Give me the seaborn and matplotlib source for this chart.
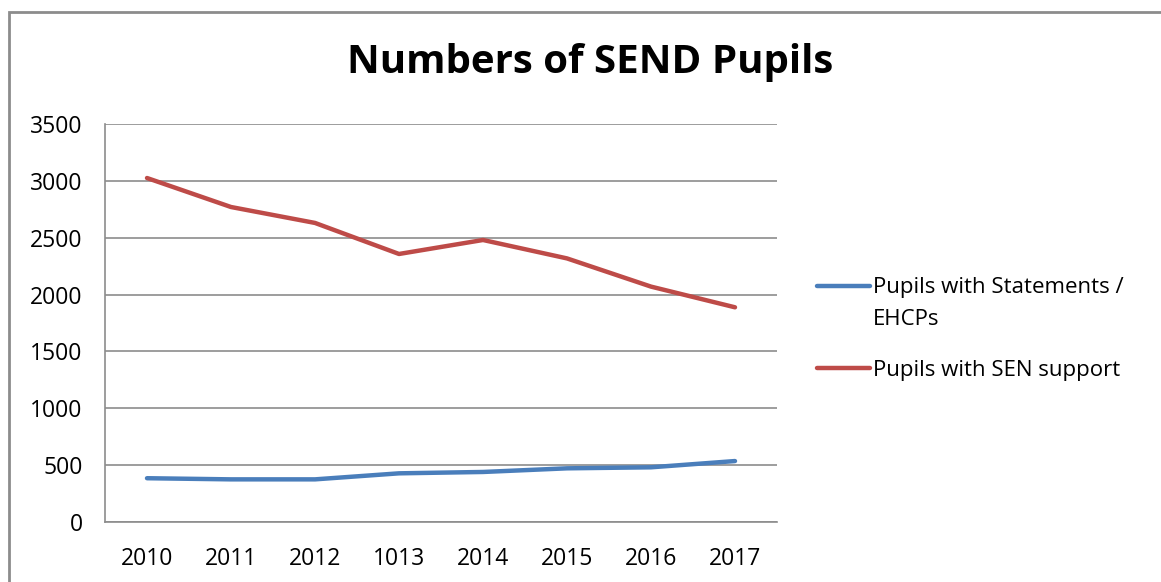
import matplotlib
matplotlib.use("Agg")
import matplotlib.pyplot as plt
import seaborn as sns
import pandas as pd
from matplotlib.patches import Rectangle

# Pupil counts by school year (the "1013" label is kept as printed)
years = ["2010", "2011", "2012", "1013", "2014", "2015", "2016", "2017"]
statements_ehcp = [385, 375, 375, 428, 440, 472, 481, 536]
sen_support = [3025, 2770, 2630, 2357, 2480, 2318, 2070, 1888]

series_names = ["Pupils with Statements /\nEHCPs", "Pupils with SEN support"]
series_colors = ["#4A7EBB", "#BE4B48"]
y_ticks = [0, 500, 1000, 1500, 2000, 2500, 3000, 3500]

rows = []
for name, values in zip(series_names, [statements_ehcp, sen_support]):
    for i, (yr, v) in enumerate(zip(years, values)):
        rows.append({"pos": i, "year": yr, "pupils": v, "series": name})
df = pd.DataFrame(rows)

sns.set_theme(style="white")
plt.rcParams["font.family"] = ["Open Sans", "DejaVu Sans"]

fig = plt.figure(figsize=(11.61, 5.82), dpi=100)
ax = fig.add_axes([105 / 1161, 1 - 522 / 582, (777 - 105) / 1161, (522 - 124) / 582])

sns.lineplot(data=df, x="pos", y="pupils", hue="series", palette=series_colors,
             hue_order=series_names, linewidth=3.2, ax=ax, legend=False)

ax.set_xlim(-0.5, len(years) - 0.5)
ax.set_ylim(0, 3500)
ax.set_xticks(range(len(years)))
ax.set_xticklabels(years)
ax.set_yticks(y_ticks)
ax.set_yticklabels([str(t) for t in y_ticks])
ax.set_xlabel("")
ax.set_ylabel("")
ax.tick_params(axis="both", length=0, labelsize=16.5, colors="#000000")
ax.tick_params(axis="y", pad=16)
ax.tick_params(axis="x", pad=18)

ax.yaxis.grid(True, color="#8C8C8C", linewidth=1.2)
ax.set_axisbelow(True)
for side in ["top", "right"]:
    ax.spines[side].set_visible(False)
for side in ["left", "bottom"]:
    ax.spines[side].set_color("#8C8C8C")
    ax.spines[side].set_linewidth(1.2)

fig.text(590 / 1161, 1 - 62 / 582, "Numbers of SEND Pupils", ha="center", va="center",
         fontsize=29, fontweight="bold", color="#000000")

handles = [plt.Line2D([], [], color=c, linewidth=3.2) for c in series_colors]
leg = fig.legend(handles, series_names, loc="upper left",
                 bbox_to_anchor=(808 / 1161, 1 - 268 / 582), frameon=False,
                 fontsize=16, handlelength=2.4, handletextpad=0.12,
                 labelspacing=1.35, borderaxespad=0, labelcolor="#000000")
leg.get_texts()[0].set_linespacing(1.7)
# keep the first handle level with the first line of its two-line label
first = leg.get_lines()[0]
yd = first.get_ydata()
first.set_ydata([y + 12.6 for y in yd])

fig.patches.append(Rectangle((9 / 1161, -0.1), 1.2, 1 - 12 / 582 + 0.1,
                             transform=fig.transFigure, fill=False,
                             edgecolor="#8C8C8C", linewidth=2))

fig.savefig("out.png", dpi=100)
